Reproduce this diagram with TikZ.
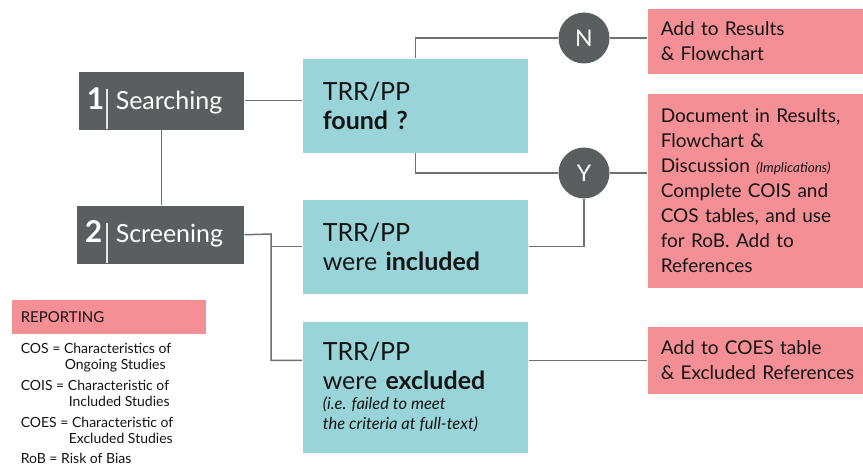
\documentclass[tikz,border=0pt]{standalone}
\usepackage{fontspec}
\setmainfont{Lato}
\usetikzlibrary{positioning, calc}
\definecolor{cdark}{HTML}{5A5E5F}
\definecolor{cteal}{HTML}{99D5D8}
\definecolor{cpink}{HTML}{F48F95}
\definecolor{cline}{HTML}{6E6F6F}
\definecolor{cink}{HTML}{141414}
\tikzset{
  every picture/.style={line width=1.5pt},
  stage/.style={fill=cdark, minimum width=165pt, minimum height=58pt, inner sep=0pt, anchor=north west},
  stagenum/.style={text=white, font=\fontsize{30}{30}\selectfont\bfseries, inner sep=0pt, anchor=base west},
  stagelabel/.style={text=white, font=\fontsize{25}{25}\selectfont, inner sep=0pt, anchor=base west},
  stagebar/.style={draw=white!85!cdark, line width=1.5pt},
  question/.style={fill=cteal, text=cink, minimum width=225pt, text width=185pt, align=left, inner xsep=20pt, inner ysep=0pt, anchor=north west, font=\fontsize{25}{29}\selectfont},
  action/.style={fill=cpink, text=cink, minimum width=216pt, text width=200pt, align=left, inner xsep=13pt, inner ysep=0pt, anchor=north west, font=\fontsize{19}{25}\selectfont},
  answer/.style={circle, fill=cdark, minimum size=51pt, inner sep=0pt, text=white, font=\fontsize{23}{23}\selectfont},
  link/.style={draw=cline, line width=1.5pt},
  key/.style={text=cink, align=left, inner sep=0pt, anchor=base west, font=\fontsize{14}{15.5}\selectfont},
}

\begin{document}
\begin{tikzpicture}[x=1pt, y=-1pt]
  \useasboundingbox (0,0) rectangle (863,468);
  % stages
  \node[stage] (search) at (78,71) {};
  \node[stagenum] (search-n) at (86,110) {1};
  \node[stagelabel] (search-t) at (115,110) {Searching};
  \draw[stagebar] (107,89) -- (107,129);
  \node[stage, minimum width=167pt] (screen) at (76,205) {};
  \node[stagenum] (screen-n) at (84,243) {2};
  \node[stagelabel] (screen-t) at (115,243) {Screening};
  \draw[stagebar] (107,223) -- (107,263);
  % questions
  \node[question, minimum height=94pt] (found) at (302,58) {TRR/PP\\\textbf{found ?}};
  \node[question, minimum height=94pt] (incl) at (302,199) {TRR/PP\\were \textbf{included}};
  \node[question, minimum height=131pt] (excl) at (302,321)
    {TRR/PP\\were \textbf{excluded}\par
     {\fontsize{16.5}{20}\selectfont\itshape\spaceskip=0pt\xspaceskip=0pt (i.e. failed to meet\\the criteria at full-text)\par}};
  % answers
  \node[answer] (n) at (584,38) {N};
  \node[answer] (y) at (584,173) {Y};
  % reporting actions
  \node[action, minimum height=65pt] (add) at (647,8) {Add to Results\\\& Flowchart};
  \node[action, minimum height=194pt] (doc) at (647,93)
    {Document in Results,\\Flowchart \&\\Discussion {\fontsize{13.5}{13}\selectfont\itshape (Implications)}\\Complete COIS and\\COS tables, and use\\for RoB. Add to\\References};
  \node[action, minimum height=67pt] (coes) at (647,326) {Add to COES table\\\& Excluded References};
  % legend
  \node[fill=cpink, text=cink, anchor=north west, minimum width=194pt, minimum height=34pt, text width=176pt, inner xsep=9pt, align=left, font=\fontsize{15}{15}\selectfont] (rep) at (11,299) {REPORTING};
  \node[key] (legend) at (20,463)
    {COS = Characteristics of\\\hspace*{44pt}Ongoing Studies\\[6pt]
     COIS = Characteristic of\\\hspace*{48pt}Included Studies\\[6pt]
     COES = Characteristic of\\\hspace*{48pt}Excluded Studies\\[4.5pt]
     RoB = Risk of Bias};
  % connectors
  \coordinate (fork) at (271,234);
  \draw[link] (search.east) -- (search.east -| found.west);
  \draw[link] (search.south) -- (search.south |- screen.north);
  \draw[link] (found.north) |- (n.west);
  \draw[link] (found.south) |- (y.west);
  \draw[link] (n.east) -- (n.east -| add.west);
  \draw[link] (y.east) -- (y.east -| doc.west);
  \draw[link] (incl.east) -| (y.south);
  \draw[link] (screen.east) -- (fork) |- (excl.west |- coes.west);
  \draw[link] (fork |- incl.west) -- (incl.west);
  \draw[link] (excl.east |- coes.west) -- (coes.west);
\end{tikzpicture}
\end{document}
